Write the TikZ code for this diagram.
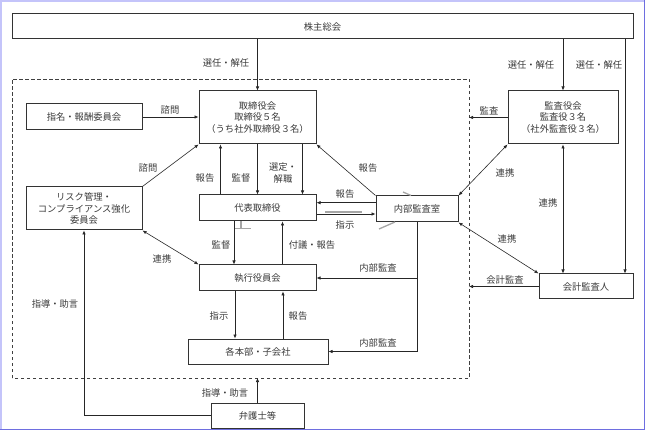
\documentclass[tikz,border=0pt]{standalone}
\usepackage{fontspec}
\setmainfont{Noto Sans CJK JP}
\usepackage{tikz}
\usetikzlibrary{arrows.meta}
\definecolor{framelite}{HTML}{C4C4FA}
\definecolor{framedark}{HTML}{6E6EE0}
\definecolor{txtgray}{HTML}{3A3A3A}

\begin{document}
\begin{tikzpicture}[x=1pt,y=-1pt,
  font=\fontsize{9.3}{11.5}\selectfont,
  box/.style={draw=black!80,line width=1pt,fill=white,inner sep=0pt,
    text=txtgray,align=center},
  lbl/.style={inner sep=0pt,text=txtgray,align=center},
  conn/.style={draw=black!85,line width=0.6pt},
  arr/.style={conn,-{Latex[length=4pt,width=3.4pt]}},
  both/.style={conn,{Latex[length=4pt,width=3.4pt]}-{Latex[length=4pt,width=3.4pt]}},
  smudge/.style={draw=black!35,line width=1.3pt}]
\useasboundingbox (0,0) rectangle (645,430);

%Frame of the picture
\fill[framelite] (0,0) rectangle (2,430);
\fill[framelite] (0,0) rectangle (645,2);
\draw[framedark,line width=0.8pt] (644,0) -- (644,429) -- (0,429);

% Define coordinates.
\coordinate (bnd sw) at (12,378);
\coordinate (bnd ne) at (469,79);

%Company boundary
\draw[dash pattern=on 3.5pt off 2.5pt,black!75,line width=0.9pt] (bnd sw) rectangle (bnd ne);

%Boxes
\node[box,minimum width=621,minimum height=25] (soukai) at (322.5,26.5) {株主総会};
\node[box,minimum width=117,minimum height=53] (board) at (257.5,117.5)
  {取締役会\\取締役５名\\（うち社外取締役３名）};
\node[box,minimum width=116,minimum height=26] (nomi) at (84,117) {指名・報酬委員会};
\node[box,minimum width=116,minimum height=43] (risk) at (84,208.5)
  {リスク管理・\\コンプライアンス強化\\委員会};
\node[box,minimum width=117,minimum height=26] (ceo) at (257.5,208) {代表取締役};
\node[box,minimum width=82,minimum height=26] (audit) at (417,209) {内部監査室};
\node[box,minimum width=117,minimum height=26] (exec) at (257.5,278) {執行役員会};
\node[box,minimum width=140,minimum height=25] (dept) at (258,351.5) {各本部・子会社};
\node[box,minimum width=93,minimum height=25] (lawyer) at (257.5,415.5) {弁護士等};
\node[box,minimum width=110,minimum height=53] (kansa) at (563,117.5)
  {監査役会\\監査役３名\\（社外監査役３名）};
\node[box,minimum width=94,minimum height=25] (kaikei) at (586,286.5) {会計監査人};
\coordinate (kaikei in) at ([xshift=39pt]kaikei.north);

%Stray grey marks
\draw[smudge] (325,212) -- (362,212);
\draw[smudge] (379,229) -- (395,222);
\draw[smudge] (403,192) -- (411,195.5);
\draw[smudge] (234,228.5) -- (251,228.5);
\draw[smudge] (241,221.5) -- (241,228.5);

%Connectors from the shareholders
\draw[arr] (soukai.south -| board.north) -- (board.north);
\draw[arr] (soukai.south -| kansa.north) -- (kansa.north);
\draw[arr] (soukai.south -| kaikei in) -- (kaikei in);

%Board and committees
\draw[arr] (nomi.east) -- (nomi.east -| board.west);
\draw[arr] (risk.north east) -- (board.south west);
\draw[arr] ([xshift=-37pt]ceo.north) -- ([xshift=-37pt]board.south);
\draw[arr] (board.south) -- (ceo.north);
\draw[arr] ([xshift=45pt]board.south) -- ([xshift=45pt]ceo.north);
\draw[arr] (audit.north west) -- (board.south east);

%Representative director and internal audit
\draw[arr] ([yshift=6.3pt]audit.west) -- ([yshift=6.3pt]audit.west -| ceo.east);
\draw[arr] ([yshift=-6pt]ceo.east) -- ([yshift=-6pt]ceo.east -| audit.west);
\draw[arr] ([xshift=-23.5pt]ceo.south) -- ([xshift=-23.5pt]exec.north);
\draw[arr] ([xshift=25pt]exec.north) -- ([xshift=25pt]ceo.south);
\draw[both] (risk.south east) -- (exec.north west);

%Executive committee and departments
\draw[arr] ([xshift=-22.5pt]exec.south) -- ([xshift=-22.5pt]exec.south |- dept.north);
\draw[arr] ([xshift=25.5pt]exec.south |- dept.north) -- ([xshift=25.5pt]exec.south);
\draw[arr] (audit.south) |- (dept.east);
\draw[arr] (audit.south |- exec.east) -- (exec.east);

%Lawyers
\draw[arr] (lawyer.north) -- (lawyer.north |- bnd sw);
\draw[arr] (lawyer.west) -| (risk.south);

%Auditors
\draw[arr] (kansa.west) -- (kansa.west -| bnd ne);
\draw[both] (kansa.south west) -- (audit.north east);
\draw[both] (kansa.south) -- (kansa.south |- kaikei.north);
\draw[both] (audit.south east) -- (kaikei.north west);
\draw[arr] (kaikei.west) -- (kaikei.west -| bnd ne);

%Labels
\node[lbl] (l-elect) at (226,63) {選任・解任};
\node[lbl] (l-elect2) at (531,65) {選任・解任};
\node[lbl] (l-elect3) at (599,65) {選任・解任};
\node[lbl] (l-consult) at (170,110) {諮問};
\node[lbl] (l-consult2) at (148,168) {諮問};
\node[lbl] (l-report) at (205,178) {報告};
\node[lbl] (l-super) at (241,178) {監督};
\node[lbl] (l-appoint) at (283,173) {選定・\\解職};
\node[lbl] (l-report2) at (368,168) {報告};
\node[lbl] (l-report3) at (345,194) {報告};
\node[lbl] (l-order) at (345,225) {指示};
\node[lbl] (l-super2) at (221,245) {監督};
\node[lbl] (l-refer) at (312,245) {付議・報告};
\node[lbl] (l-link) at (162,259) {連携};
\node[lbl] (l-inaud) at (378,268) {内部監査};
\node[lbl] (l-order2) at (219,316) {指示};
\node[lbl] (l-report4) at (298,316) {報告};
\node[lbl] (l-inaud2) at (378,343) {内部監査};
\node[lbl] (l-advice) at (225,393) {指導・助言};
\node[lbl] (l-advice2) at (55,304) {指導・助言};
\node[lbl] (l-audit) at (489,111) {監査};
\node[lbl] (l-link2) at (505,173) {連携};
\node[lbl] (l-link3) at (548,203) {連携};
\node[lbl] (l-link4) at (507,239) {連携};
\node[lbl] (l-acc) at (505,280) {会計監査};

\end{tikzpicture}
\end{document}
